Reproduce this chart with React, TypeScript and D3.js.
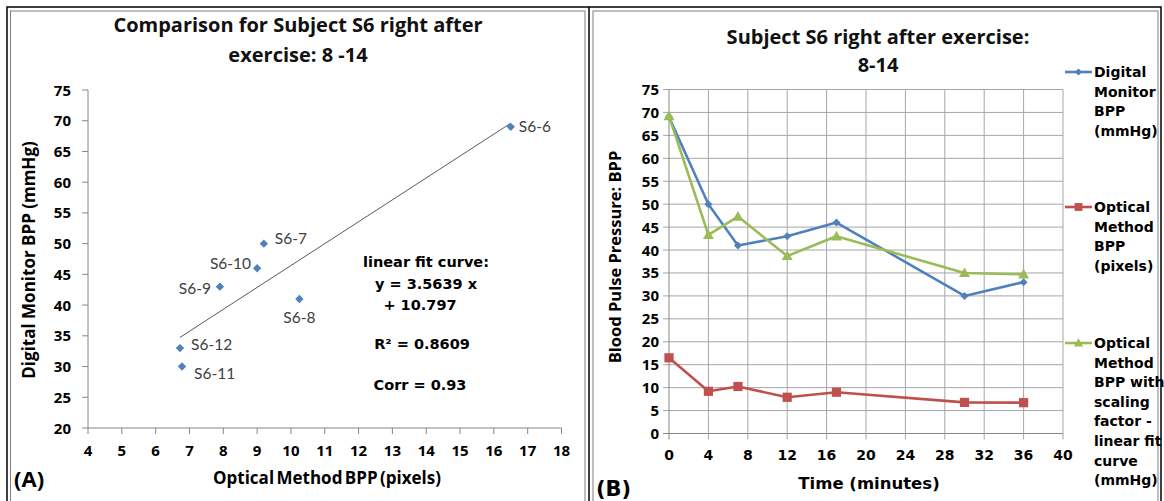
import React from "react";
import * as d3 from "d3";

// Sample names, in recording order after exercise
const sampleLabels = ["S6-6", "S6-7", "S6-8", "S6-9", "S6-10", "S6-11", "S6-12"];
// Minutes after exercise at which each sample was taken
const timesMin = [0, 4, 7, 12, 17, 30, 36];
// Optical method blood pulse pressure (pixels)
const opticalPx = [16.5, 9.2, 10.25, 7.9, 9.0, 6.78, 6.72];
// Digital monitor blood pulse pressure (mmHg)
const monitorMmHg = [69, 50, 41, 43, 46, 30, 33];
// Optical method scaled through the linear fit (mmHg)
const scaledOptical = [69.2, 43.3, 47.3, 38.7, 43.0, 35.0, 34.7];

// Linear fit statistics
const fitSlope = 3.5639;
const fitIntercept = 10.797;
const fitR2 = 0.8609;
const fitCorr = 0.93;

// Axis ticks
const xTicksA = [4, 5, 6, 7, 8, 9, 10, 11, 12, 13, 14, 15, 16, 17, 18];
const yTicksA = [20, 25, 30, 35, 40, 45, 50, 55, 60, 65, 70, 75];
const xTicksB = [0, 4, 8, 12, 16, 20, 24, 28, 32, 36, 40];
const yTicksB = [0, 5, 10, 15, 20, 25, 30, 35, 40, 45, 50, 55, 60, 65, 70, 75];

// Legend entries for panel B
const legendEntries = [
  { lines: ["Digital", "Monitor", "BPP", "(mmHg)"], color: "#4F81BD", marker: "diamond" },
  { lines: ["Optical", "Method", "BPP", "(pixels)"], color: "#C0504D", marker: "square" },
  {
    lines: ["Optical", "Method", "BPP with", "scaling", "factor -", "linear fit", "curve", "(mmHg)"],
    color: "#9BBB59",
    marker: "triangle",
  },
];

// Where each point label sits relative to its marker
const labelPlacement: Record<string, { dx: number; dy: number; anchor: string }> = {
  "S6-6": { dx: 8, dy: 5, anchor: "start" },
  "S6-7": { dx: 11, dy: 0, anchor: "start" },
  "S6-8": { dx: 0, dy: 24, anchor: "middle" },
  "S6-9": { dx: -9, dy: 7, anchor: "end" },
  "S6-10": { dx: -6, dy: 1, anchor: "end" },
  "S6-11": { dx: 12, dy: 12, anchor: "start" },
  "S6-12": { dx: 11, dy: 2, anchor: "start" },
};

const BLUE = "#4F81BD";
const RED = "#C0504D";
const GREEN = "#9BBB59";
const AXIS = "#868686";
const GRID = "#A6A6A6";
const sans = "'Open Sans', 'Noto Sans', sans-serif";
const label = "Lato, 'Open Sans', sans-serif";
const gothic = "'DejaVu Sans', Verdana, sans-serif";

function Marker({ type, x, y, color, size = 1 }: { type: string; x: number; y: number; color: string; size?: number }) {
  if (type === "diamond") {
    const r = 4.2 * size;
    return <path d={`M${x},${y - r}L${x + r},${y}L${x},${y + r}L${x - r},${y}Z`} fill={color} />;
  }
  if (type === "square") {
    const h = 4.6 * size;
    return <rect x={x - h} y={y - h} width={2 * h} height={2 * h} fill={color} />;
  }
  const r = 5.5 * size;
  return <path d={`M${x},${y - r}L${x + r},${y + r * 0.75}L${x - r},${y + r * 0.75}Z`} fill={color} />;
}

function PanelA() {
  const x = d3.scaleLinear().domain([4, 18]).range([88, 561.5]);
  const y = d3.scaleLinear().domain([20, 75]).range([428, 90]);
  const xMin = d3.min(opticalPx) as number;
  const xMax = d3.max(opticalPx) as number;
  const fitLine = d3
    .line<number>()
    .x((v) => x(v))
    .y((v) => y(fitSlope * v + fitIntercept));

  return (
    <g>
      <g fontFamily={sans} fontWeight={700} fontSize={20} fill="#111" textAnchor="middle">
        <text x={298} y={32}>Comparison  for Subject S6 right after</text>
        <text x={298} y={62}>exercise: 8 -14</text>
      </g>

      {/* axes */}
      <line x1={x(4)} x2={x(4)} y1={y(75)} y2={y(20)} stroke={AXIS} />
      <line x1={x(4)} x2={x(18)} y1={y(20)} y2={y(20)} stroke={AXIS} />
      {yTicksA.map((t) => (
        <g key={`ya${t}`}>
          <line x1={x(4) - 6} x2={x(4)} y1={y(t)} y2={y(t)} stroke={AXIS} />
          <text x={71} y={y(t) + 5.5} textAnchor="end" fontFamily={sans} fontWeight={700} fontSize={15}>
            {t}
          </text>
        </g>
      ))}
      {xTicksA.map((t) => (
        <g key={`xa${t}`}>
          <line x1={x(t)} x2={x(t)} y1={y(20)} y2={y(20) + 6} stroke={AXIS} />
          <text x={x(t)} y={456} textAnchor="middle" fontFamily={sans} fontWeight={700} fontSize={15}>
            {t}
          </text>
        </g>
      ))}

      <text
        transform="translate(35,260) rotate(-90)"
        textAnchor="middle"
        fontFamily={sans}
        fontWeight={700}
        fontSize={17}
      >
        Digital Monitor BPP (mmHg)
      </text>
      <text
        x={327}
        y={484}
        textAnchor="middle"
        fontFamily={sans}
        fontWeight={700}
        fontSize={17}
        wordSpacing={-2}
      >
        Optical Method BPP (pixels)
      </text>
      <text x={14} y={487} fontFamily={sans} fontWeight={700} fontSize={22}>
        (A)
      </text>

      {/* fit line */}
      <path d={fitLine([xMin, xMax]) || ""} stroke="#595959" strokeWidth={1} fill="none" />

      {/* points */}
      {opticalPx.map((v, i) => {
        const px = x(v);
        const py = y(monitorMmHg[i]);
        const p = labelPlacement[sampleLabels[i]];
        return (
          <g key={sampleLabels[i]}>
            <Marker type="diamond" x={px} y={py} color={BLUE} />
            <text
              x={px + p.dx}
              y={py + p.dy}
              textAnchor={p.anchor as any}
              fontFamily={label}
              fontSize={15.5}
              fill="#404040"
            >
              {sampleLabels[i]}
            </text>
          </g>
        );
      })}

      {/* fit annotation */}
      <g fontFamily={gothic} fontWeight={700} fontSize={14.5} fill="#000" textAnchor="middle">
        <text x={426} y={267}>linear fit curve:</text>
        <text x={426} y={289}>{`y = ${fitSlope} x`}</text>
        <text x={420} y={310}>{`+ ${fitIntercept}`}</text>
        <text x={422} y={349}>{`R² = ${fitR2}`}</text>
        <text x={420} y={390}>{`Corr = ${fitCorr}`}</text>
      </g>
    </g>
  );
}

function PanelB() {
  const x = d3.scaleLinear().domain([0, 40]).range([669, 1063]);
  const y = d3.scaleLinear().domain([0, 75]).range([433.5, 89.5]);
  const line = d3
    .line<[number, number]>()
    .x((d) => x(d[0]))
    .y((d) => y(d[1]));
  const series = [
    { values: monitorMmHg, color: BLUE, marker: "diamond" },
    { values: opticalPx, color: RED, marker: "square" },
    { values: scaledOptical, color: GREEN, marker: "triangle" },
  ];

  return (
    <g>
      <g fontFamily={sans} fontWeight={700} fontSize={20} fill="#111" textAnchor="middle">
        <text x={878} y={44}>Subject S6 right after exercise:</text>
        <text x={878} y={72}>8-14</text>
      </g>

      {/* grid */}
      {yTicksB.map((t) => (
        <g key={`yb${t}`}>
          <line x1={x(0) - 6} x2={x(40)} y1={y(t)} y2={y(t)} stroke={t === 0 ? AXIS : GRID} />
          <text x={659} y={y(t) + 5.5} textAnchor="end" fontFamily={sans} fontWeight={700} fontSize={15}>
            {t}
          </text>
        </g>
      ))}
      {xTicksB.map((t) => (
        <g key={`xb${t}`}>
          <line x1={x(t)} x2={x(t)} y1={y(75)} y2={y(0) + 6} stroke={t === 0 ? AXIS : GRID} />
          <text x={x(t)} y={460} textAnchor="middle" fontFamily={gothic} fontWeight={700} fontSize={14}>
            {t}
          </text>
        </g>
      ))}

      <text
        transform="translate(621,257) rotate(-90)"
        textAnchor="middle"
        fontFamily={sans}
        fontWeight={700}
        fontSize={16.5}
      >
        Blood Pulse Pressure: BPP
      </text>
      <text x={869} y={489} textAnchor="middle" fontFamily={gothic} fontWeight={700} fontSize={16.5}>
        Time (minutes)
      </text>
      <text x={596} y={496} fontFamily={gothic} fontWeight={700} fontSize={21}>
        (B)
      </text>

      {/* series */}
      {series.map((s, si) => {
        const pts = timesMin.map((t, i) => [t, s.values[i]] as [number, number]);
        return (
          <g key={`s${si}`}>
            <path d={line(pts) || ""} stroke={s.color} strokeWidth={2.6} fill="none" strokeLinejoin="round" />
            {pts.map((p, i) => (
              <Marker key={i} type={s.marker} x={x(p[0])} y={y(p[1])} color={s.color} size={s.marker === "diamond" ? 0.95 : 1} />
            ))}
          </g>
        );
      })}

      {/* legend */}
      {legendEntries.map((e, ei) => {
        const top = [77, 212, 348][ei];
        return (
          <g key={`lg${ei}`}>
            <line x1={1065} x2={1092} y1={top - 5} y2={top - 5} stroke={e.color} strokeWidth={2.6} />
            <Marker type={e.marker} x={1078.5} y={top - 5} color={e.color} size={0.85} />
            {e.lines.map((ln, li) => (
              <text key={li} x={1094} y={top + li * 19.6} fontFamily={gothic} fontWeight={700} fontSize={14}>
                {ln}
              </text>
            ))}
          </g>
        );
      })}
    </g>
  );
}

export default function App() {
  return (
    <svg
      width={1164}
      height={501}
      style={{ position: "absolute", left: 0, top: 0, background: "#fff" }}
      xmlns="http://www.w3.org/2000/svg"
    >
      <rect x={0} y={0} width={1164} height={501} fill="#fff" />
      {/* frames */}
      <rect x={7} y={7} width={1154} height={500} fill="none" stroke="#000" strokeWidth={1.5} />
      <rect x={10.5} y={11} width={574.5} height={494} fill="none" stroke="#7F7F7F" />
      <line x1={589} x2={589} y1={7} y2={501} stroke="#000" strokeWidth={1.5} />
      <rect x={593} y={11} width={565} height={494} fill="none" stroke="#7F7F7F" />
      <PanelA />
      <PanelB />
    </svg>
  );
}
